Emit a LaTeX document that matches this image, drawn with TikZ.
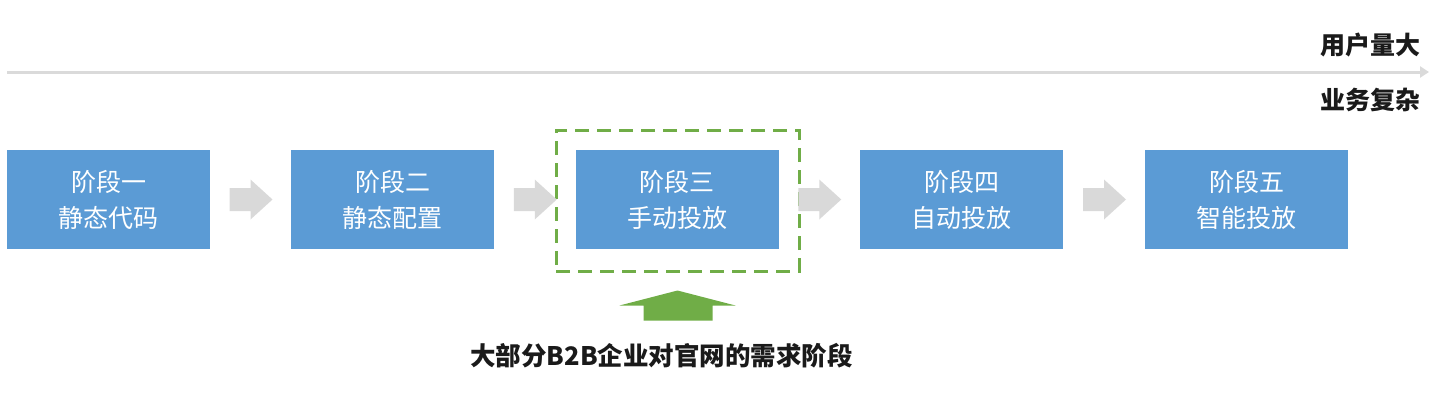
\documentclass[tikz,border=0pt]{standalone}
\usepackage{fontspec}
\newfontfamily\cjk{Noto Sans CJK SC}[BoldFont={Noto Sans CJK SC Black}]
\usetikzlibrary{calc,arrows.meta}
\definecolor{boxblue}{HTML}{5B9BD5}
\definecolor{arrgray}{HTML}{D9D9D9}
\definecolor{linegray}{HTML}{DADADA}
\definecolor{fgreen}{HTML}{70AD47}
\definecolor{txt}{HTML}{1A1A1A}
\tikzset{
  stagebox/.style={fill=boxblue, draw=none, minimum width=203pt, minimum height=99pt,
    inner sep=0pt, align=center, text=white, font=\cjk\fontsize{25}{36}\selectfont},
  focusbox/.style={draw=fgreen, line width=3pt, dash pattern=on 14pt off 8pt,
    minimum width=243pt, minimum height=141pt, inner sep=0pt},
  grayarr/.style={fill=arrgray, draw=none},
  greenarr/.style={fill=fgreen, draw=none},
  toplabel/.style={font=\cjk\bfseries\fontsize{25}{30}\selectfont, text=txt, inner sep=0pt, anchor=east},
  bottomlabel/.style={font=\cjk\bfseries\fontsize{25.5}{30}\selectfont, text=txt, inner sep=0pt}
}
\begin{document}
\begin{tikzpicture}[x=1pt,y=-1pt]
\useasboundingbox (0,0) rectangle (1440,400);
% top axis
\coordinate (axL) at (7,72);
\coordinate (axR) at (1429,72);
\draw[linegray, line width=3pt, -{Triangle[length=9pt,width=11pt]}] (axL) -- (axR);
\node[toplabel] (t1) at (1421,45) {用户量大};
\node[toplabel] (t2) at (1421,100) {业务复杂};
% stages
\node[stagebox] (b1) at (108.5,199.5) {阶段一\\静态代码};
\node[stagebox] (b2) at (392.5,199.5) {阶段二\\静态配置};
\node[stagebox] (b3) at (677,199.5) {阶段三\\手动投放};
\node[stagebox] (b4) at (961.5,199.5) {阶段四\\自动投放};
\node[stagebox] (b5) at (1246.5,199.5) {阶段五\\智能投放};
% focus box
\node[focusbox] (focus) at (677.5,200.5) {};
% gray arrows between stages
\foreach \a/\b in {b1/b2,b2/b3,b3/b4,b4/b5}{
  \coordinate (m) at ($(\a.east)!0.5!(\b.west)$);
  \fill[grayarr, shift={(m)}] (-21,-11.5) -- (0,-11.5) -- (0,-20) -- (22,0) -- (0,20) -- (0,11.5) -- (-21,11.5) -- cycle;
}
% bottom label and green arrow
\node[bottomlabel] (lab) at (661.5,356) {大部分B2B企业对官网的需求阶段};
\coordinate (g) at ($(focus.south)+(0,18)$);
\fill[greenarr, shift={(g)}] (0,0) -- (58,15) -- (35,15) -- (35,30) -- (-34,30) -- (-34,15) -- (-58,15) -- cycle;
\end{tikzpicture}
\end{document}
